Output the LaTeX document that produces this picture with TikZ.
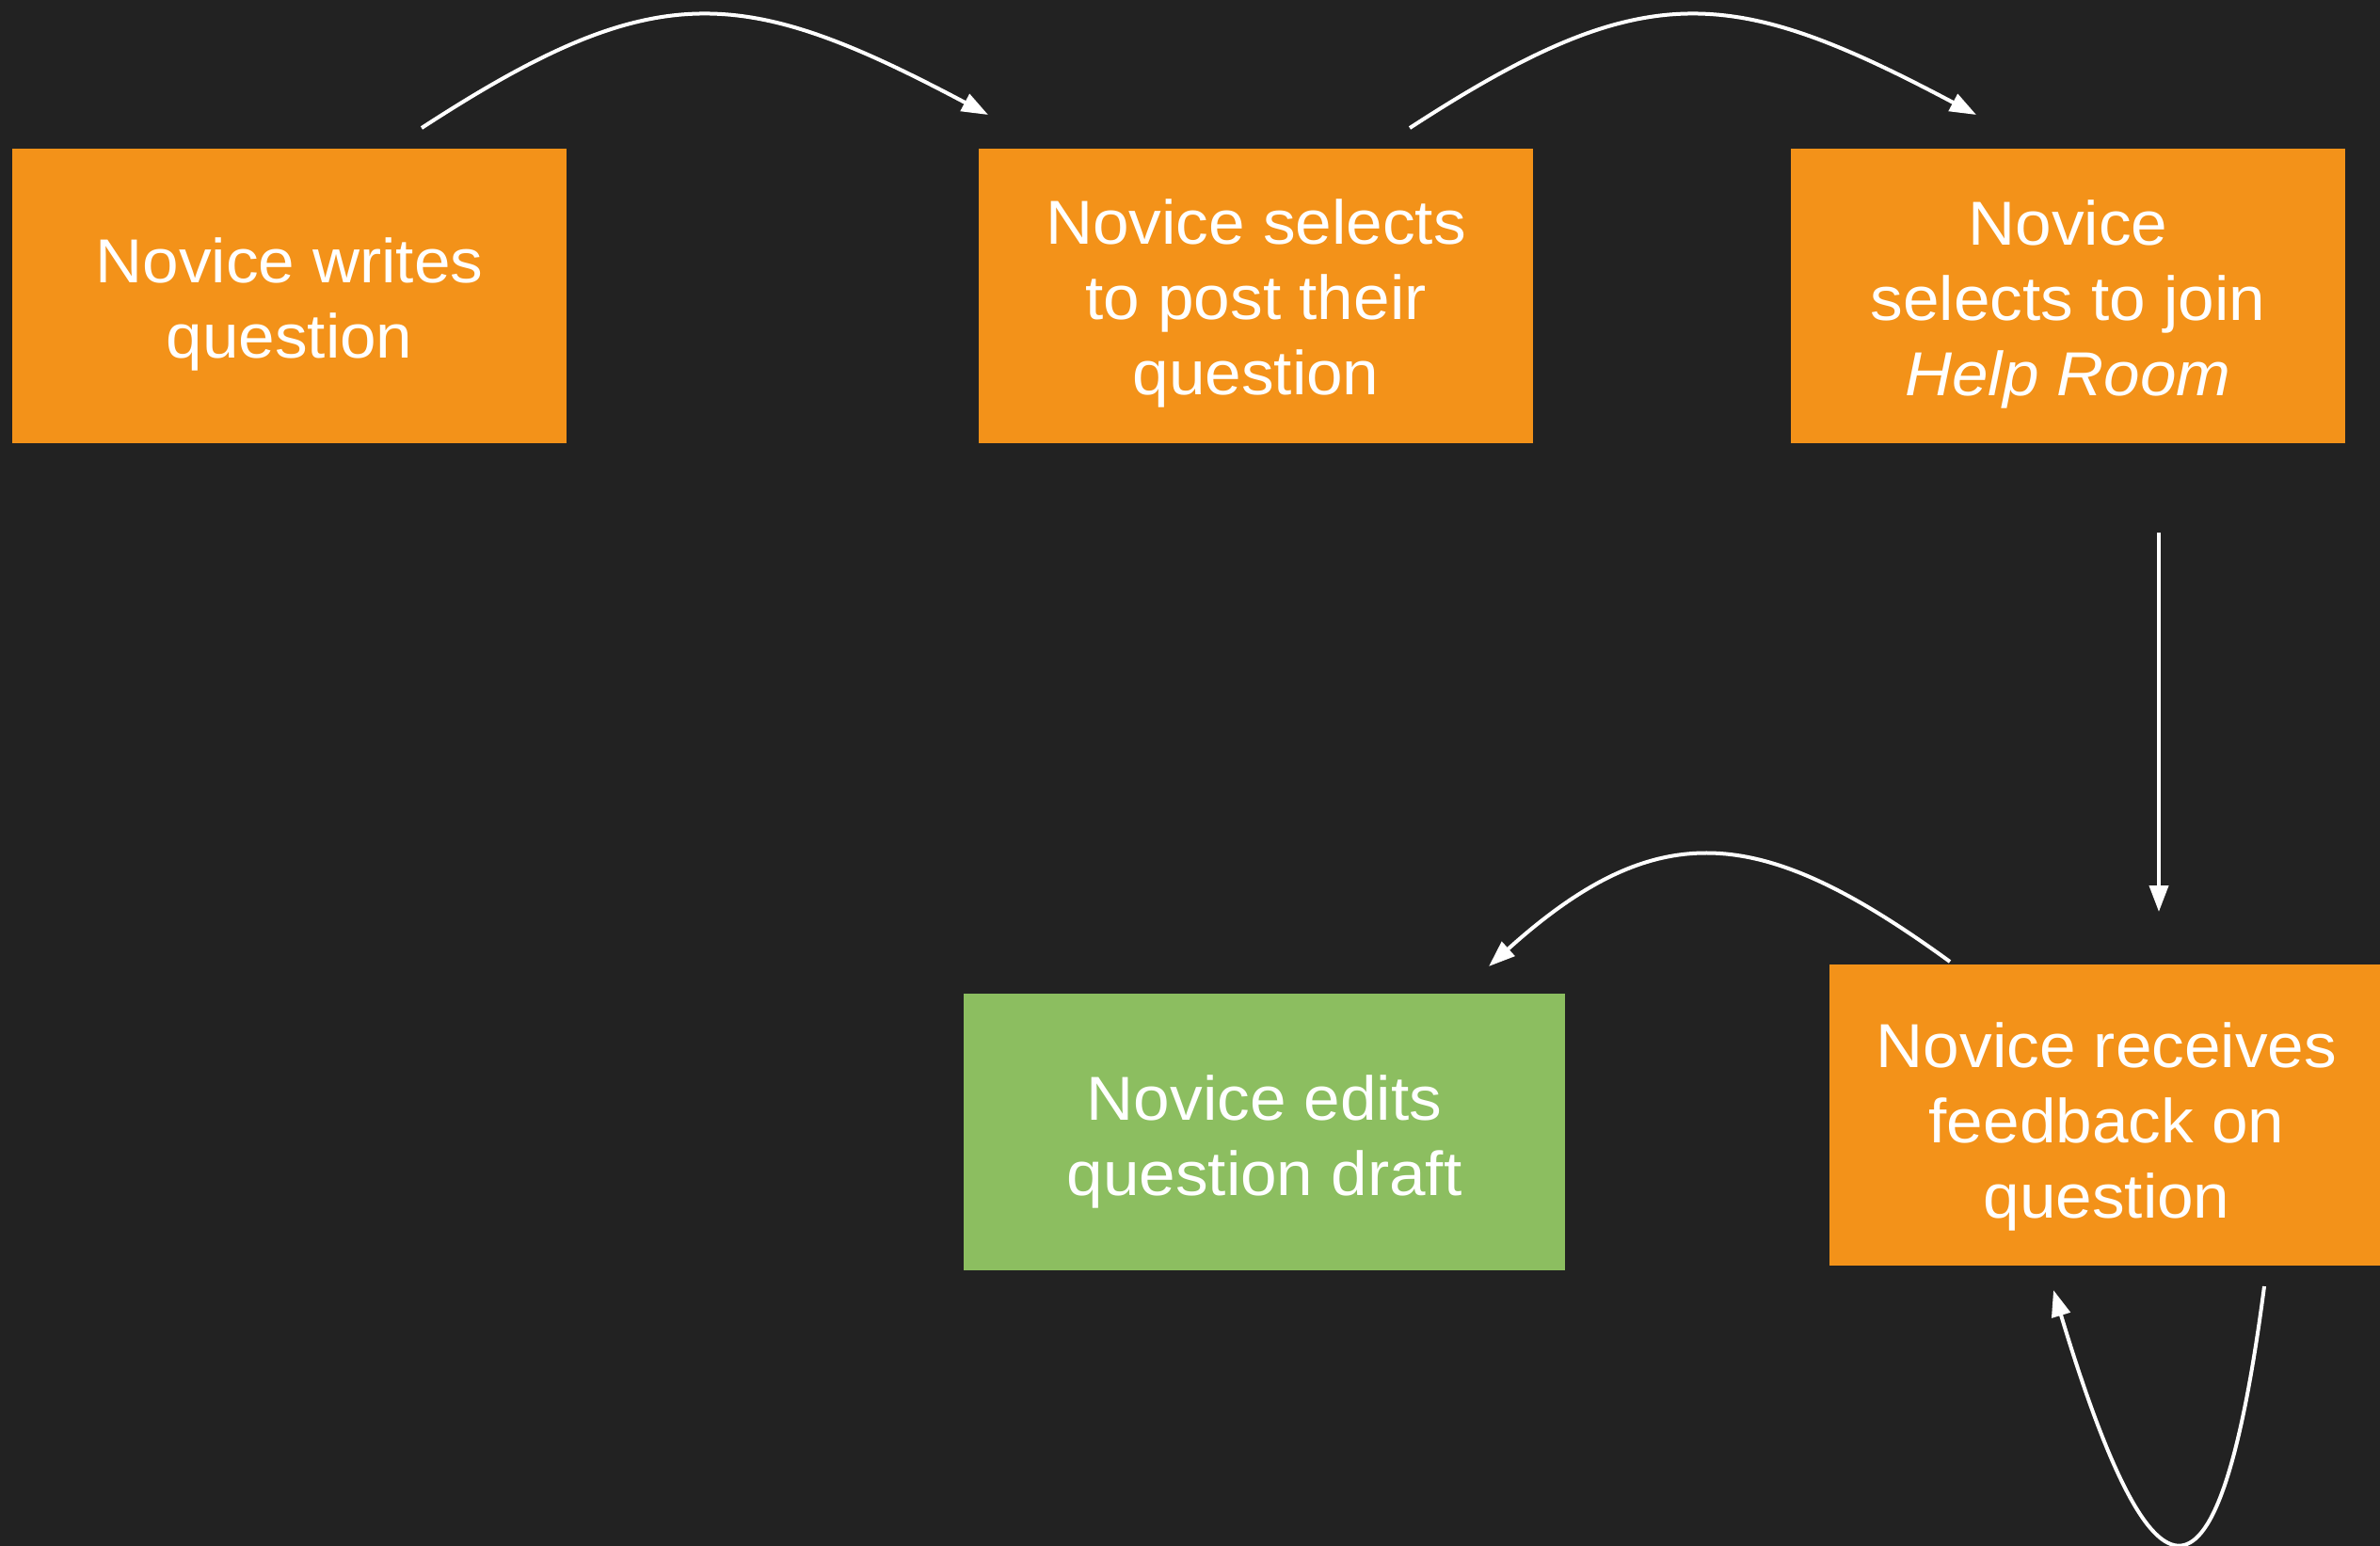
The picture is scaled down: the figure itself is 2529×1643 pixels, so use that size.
\documentclass[tikz,border=0pt]{standalone}
\usepackage{fontspec}
\setmainfont{Liberation Sans}[FakeStretch=1.05]
\usetikzlibrary{arrows.meta}
\definecolor{bgdark}{HTML}{222222}
\definecolor{orangebox}{HTML}{F39219}
\definecolor{greenbox}{HTML}{8CBE60}
\begin{document}
\begin{tikzpicture}[x=1pt,y=-1pt,
  box/.style={rectangle, inner sep=0pt, minimum width=589pt, minimum height=313pt, fill=orangebox, draw=none},
  gbox/.style={box, fill=greenbox, minimum width=639pt, minimum height=294pt},
  txt/.style={text=white, align=center, font=\fontsize{66}{80}\selectfont, inner sep=0pt},
  conn/.style={draw=white, line width=4pt, -{Triangle[length=28pt,width=20pt]}}
]
\fill[bgdark] (0,0) rectangle (2529,1643);
\useasboundingbox (0,0) rectangle (2529,1643);

% boxes
\node[box] (A) at (307.5,314.5) {};
\node[box] (B) at (1334.5,314.5) {};
\node[box] (C) at (2197.5,314.5) {};
\node[gbox] (D) at (1343.5,1203) {};
\node[box, minimum height=320pt] (E) at (2238.5,1185) {};

% texts
\node[txt] (tA) at ([yshift=-9pt]A.center) {Novice writes\\question};
\node[txt] (tB) at ([yshift=-8pt]B.center) {Novice selects\\to post their\\question};
\node[txt] (tC) at ([yshift=-9pt]C.center) {Novice\\selects to join\\\textit{Help Room}};
\node[txt] (tD) at ([yshift=-10pt]D.center) {Novice edits\\question draft};
\node[txt] (tE) at ([yshift=-12pt]E.center) {Novice receives\\feedback on\\question};

% connector end points
\coordinate (a1s) at (448,136);
\coordinate (a1e) at (1050,122);
\coordinate (a2s) at (1498,136);
\coordinate (a2e) at (2100,122);
\coordinate (a3s) at (2294,566);
\coordinate (a3e) at (2294,969);
\coordinate (a4s) at (2072,1022);
\coordinate (a4e) at (1582,1027);
\coordinate (a5s) at (2406,1367);
\coordinate (a5e) at (2182,1371);

% connectors
\draw[conn] (a1s) .. controls (697,-26) and (788,-17) .. (a1e);
\draw[conn] (a2s) .. controls (1747,-26) and (1838,-17) .. (a2e);
\draw[conn] (a3s) -- (a3e);
\draw[conn] (a4s) .. controls (1874,878) and (1764,863) .. (a4e);
\draw[conn] (a5s) .. controls (2358,1733) and (2289,1726) .. (a5e);
\end{tikzpicture}
\end{document}
